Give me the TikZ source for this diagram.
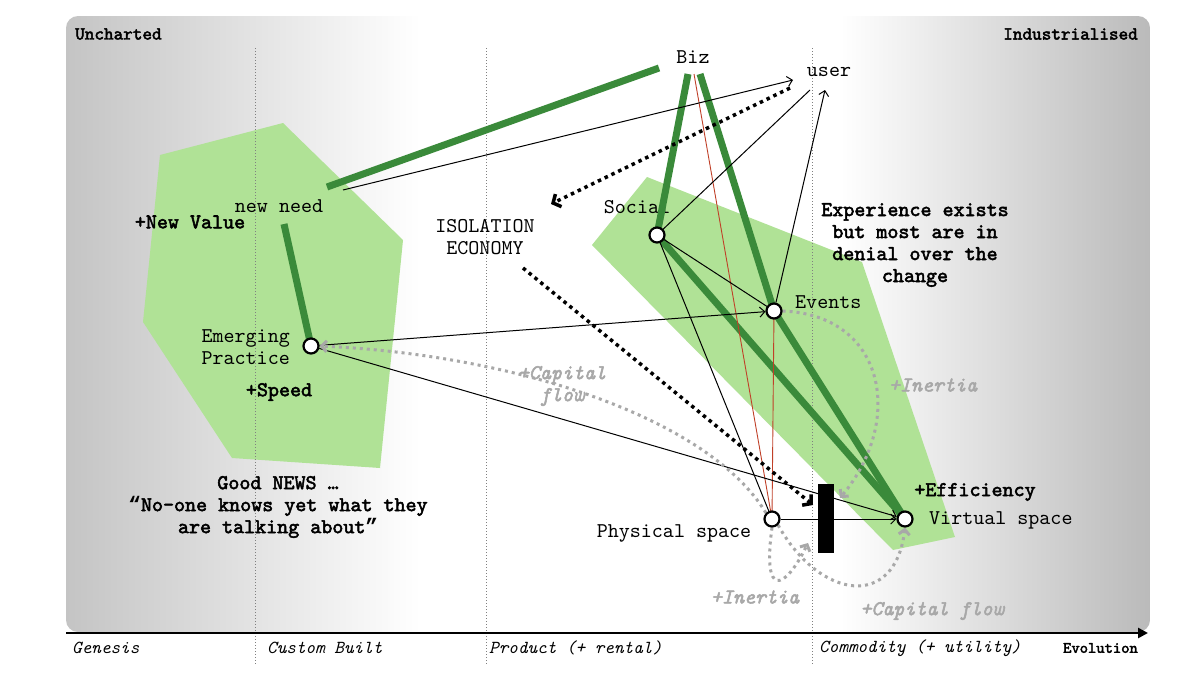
\documentclass[tikz,border=0pt]{standalone}
\usepackage{fontspec}
\setmainfont{lmmono10-regular.otf}[ItalicFont=lmmono10-italic.otf, BoldFont=lmmono10-regular.otf, BoldFeatures={FakeBold=2.5}, BoldItalicFont=lmmono10-italic.otf, BoldItalicFeatures={FakeBold=2.5}]
\newfontfamily\qfont{Liberation Mono}
\usetikzlibrary{arrows.meta,shapes.geometric}
\definecolor{gfill}{RGB}{176,226,150}
\definecolor{gline}{RGB}{58,138,58}
\definecolor{rline}{RGB}{192,64,40}
\definecolor{gtext}{RGB}{168,168,168}
\definecolor{bgrey}{RGB}{196,196,196}
\pgfdeclarelayer{bg}
\pgfdeclarelayer{mid}
\pgfsetlayers{bg,mid,main}
\begin{document}
\begin{tikzpicture}[x=1pt,y=-1pt,
  lbl/.style={font=\fontsize{21}{22}\selectfont, inner sep=0pt, align=center},
  blbl/.style={font=\fontsize{21}{22}\selectfont\bfseries, inner sep=0pt, align=center},
  glbl/.style={font=\fontsize{21}{22}\selectfont\bfseries\itshape, text=gtext, inner sep=0pt, align=center},
  cornerlbl/.style={font=\fontsize{18.3}{20}\selectfont\bfseries, inner sep=0pt},
  axlbl/.style={font=\fontsize{18.3}{20}\selectfont\itshape, inner sep=0pt, anchor=west},
  pt/.style={circle, draw=black, fill=white, line width=2.2pt, minimum size=15pt, inner sep=0pt},
  gthick/.style={draw=gline, line width=7pt},
  thin/.style={draw=black, line width=1pt},
  arr/.style={-{Straight Barb[length=5pt,width=10pt]}},
  reds/.style={draw=rline, line width=0.9pt},
  bdot/.style={draw=black, line width=3.5pt, dash pattern=on 3.5pt off 4pt},
  gdot/.style={draw=gtext, line width=3pt, dash pattern=on 3pt off 4pt},
  gridln/.style={draw=gray, line width=0.7pt, dash pattern=on 1pt off 2pt}
]
\useasboundingbox (0,0) rectangle (1200,675);
% background
\begin{pgfonlayer}{bg}
\fill[white] (0,0) rectangle (1200,675);
\begin{scope}
\clip[rounded corners=12pt] (66,16) rectangle (1150,632);
\fill[white] (66,16) rectangle (1150,632);
\shade[left color=bgrey, right color=white] (66,16) rectangle (420,632);
\shade[left color=white, right color=bgrey!95!black] (840,16) rectangle (1150,632);
\end{scope}
% green areas
\fill[gfill] (160,155) -- (283,123) -- (403,240) -- (397,300) -- (380,468) -- (232,458) -- (143,322) -- cycle;
\fill[gfill] (647,177) -- (862,262) -- (955,537) -- (893,550) -- (592,245) -- cycle;
% grid
\coordinate (g1a) at (255,48); \coordinate (g1b) at (255,665);
\coordinate (g2a) at (486,48); \coordinate (g2b) at (486,665);
\coordinate (g3a) at (812,48); \coordinate (g3b) at (812,665);
\draw[gridln] (g1a) -- (g1b);
\draw[gridln] (g2a) -- (g2b);
\draw[gridln] (g3a) -- (g3b);
% axis
\coordinate (ax0) at (66,633); \coordinate (ax1) at (1148,633);
\draw[line width=2.5pt, -{Triangle[length=10pt,width=10pt]}] (ax0) -- (ax1);
% texts
\node[cornerlbl, anchor=west] (unch) at (75,34) {Uncharted};
\node[cornerlbl, anchor=east] (indu) at (1138,34) {Industrialised};
\node[axlbl] (ag) at (72,648) {Genesis};
\node[axlbl] (ac) at (267,648) {Custom Built};
\node[axlbl] (ap) at (489,648) {Product (+ rental)};
\node[axlbl] (am) at (819,648) {Commodity (+ utility)};
\node[font=\fontsize{15.8}{17}\selectfont\bfseries, inner sep=0pt, anchor=east] (aev) at (1138,648) {Evolution};
\node[lbl] (biz) at (693,57) {Biz};
\node[lbl] (user) at (829,72) {user};
\node[lbl] (nneed) at (279,206) {new need};
\node[lbl] (socl) at (637,207) {Social};
\node[lbl, anchor=west] (evtl) at (795,302) {Events};
\node[lbl, align=right, anchor=east] (empl) at (290,347) {Emerging\\Practice};
\node[lbl] (phyl) at (674,533) {Physical space};
\node[lbl, anchor=west] (virl) at (929,520) {Virtual space};
\node[lbl] (iso) at (485,237) {ISOLATION\\ECONOMY};
\node[blbl] (nval) at (190,222) {+New Value};
\node[blbl] (spd) at (279,392) {+Speed};
\node[blbl] (good) at (278,507) {Good NEWS …\\{\qfont\bfseries “}No-one knows yet what they\\are talking about{\qfont\bfseries ”}};
\node[blbl] (expe) at (915,245) {Experience exists\\but most are in\\denial over the\\change};
\node[blbl] (eff) at (975,492) {+Efficiency};
\node[glbl] (in1) at (933,385) {+Inertia};
\node[glbl] (in2) at (755,597) {+Inertia};
\node[glbl] (cf2) at (932,611) {+Capital flow};
\node[glbl] (cf1) at (562,386) {+Capital\\flow};
\end{pgfonlayer}
% points
\node[pt] (soc) at (657,235) {};
\node[pt] (evt) at (774,311) {};
\node[pt] (emp) at (311,346) {};
\node[pt] (phy) at (772,519) {};
\node[pt] (vir) at (905,519) {};
\node[fill=black, minimum width=16pt, minimum height=69pt, inner sep=0pt] (bar) at (826,518) {};
% helper coordinates
\coordinate (nn1) at (327,187);
\coordinate (nn2) at (343,190);
\coordinate (nn3) at (284,224);
\coordinate (bz1) at (659,68);
\coordinate (bz2) at (688,74);
\coordinate (bz3) at (700,74);
\coordinate (bz4) at (694,74);
\coordinate (us1) at (793,80);
\coordinate (us2) at (790,88);
\coordinate (us3) at (810,90);
\coordinate (us4) at (825,90);
\coordinate (iso1) at (551,204);
\coordinate (iso2) at (523,268);
\coordinate (bar1) at (813,505);
\coordinate (bar2) at (808,543);
\coordinate (bar3) at (840,498);
\begin{pgfonlayer}{mid}
% green thick
\draw[gthick] (nn1) -- (bz1);
\draw[gthick] (nn3) -- (emp.center);
\draw[gthick] (bz2) -- (soc.center);
\draw[gthick] (bz3) -- (evt.center) -- (vir.center);
\draw[gthick] (soc.center) -- (vir.center);
% red
\draw[reds] (bz4) -- (phy.center);
\draw[reds] (evt.center) -- (phy.center);
% thin black
\draw[thin, arr] (nn2) -- (us1);
\draw[thin] (soc.center) -- (us3);
\draw[thin, arr] (evt) -- (us4);
\draw[thin] (soc.center) -- (evt.center);
\draw[thin] (soc.center) -- (phy.center);
\draw[thin, arr] (emp) -- (evt);
\draw[thin, arr] (emp) -- (vir);
\draw[thin, arr] (phy) -- (vir);
% black dotted
\draw[bdot, -{Straight Barb[length=6pt,width=14pt]}] (us2) -- (iso1);
\draw[bdot, -{Straight Barb[length=6pt,width=14pt]}] (iso2) -- (bar1);
% grey dotted curves
\draw[gdot, -{Straight Barb[length=5pt,width=11pt]}] (evt.east) .. controls (885,315) and (905,420) .. (bar3);
\draw[gdot, -{Straight Barb[length=5pt,width=11pt]}] (phy.north west) .. controls (710,420) and (520,355) .. (emp.east);
\draw[gdot, -{Straight Barb[length=5pt,width=11pt]}] (phy.south) .. controls (762,600) and (785,590) .. (bar2);
\draw[gdot, -{Straight Barb[length=5pt,width=11pt]}] (phy.south east) .. controls (820,600) and (895,610) .. (vir.south);
\end{pgfonlayer}
\end{tikzpicture}
\end{document}
